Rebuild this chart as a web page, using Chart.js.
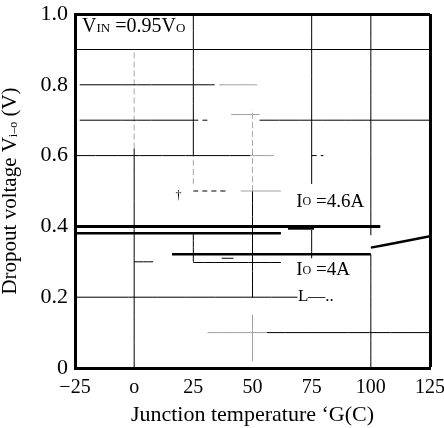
<!DOCTYPE html>
<html>
<head>
<meta charset="utf-8">
<script src="https://cdn.jsdelivr.net/npm/chart.js@4.4.0/dist/chart.umd.min.js"></script>
<style>
  html, body { margin: 0; padding: 0; background: #fff; }
</style>
</head>
<body>
<canvas id="chart" width="444" height="428"></canvas>
<script>
// axis ticks
const tempTicks = [-25, 0, 25, 50, 75, 100, 125];
const tempTickLabels = ['\u221225', 'o', '25', '50', '75', '100', '125'];
const voltTicks = [0, 0.2, 0.4, 0.6, 0.8, 1.0];
const voltTickLabels = ['0', '0.2', '0.4', '0.6', '0.8', '1.0'];

// Io = 4.6A curve (scan shows it as a doubled line)
const io46Temp = [-25, 104];
const io46Volt = [0.400, 0.400];
const io46LowTemp = [-25, 62];
const io46LowVolt = [0.381, 0.381];
const io46StubTemp = [65, 76];
const io46StubVolt = [0.397, 0.397];

// Io = 4A curve
const io4Temp = [16, 100];
const io4Volt = [0.321, 0.321];
const io4HotTemp = [100, 112, 125];
const io4HotVolt = [0.340, 0.355, 0.372];

// broken grid lines of the scan
// horizontal: [volt, fromTemp, toTemp, kind]
const hGrid = [
    [0.8, -23, 25, 'solid'], [0.8, 25, 34, 'solid'], [0.8, 36, 52, 'faint'],
    [0.716, 41, 53, 'faint'],
    [0.7, -23, 25, 'solid'], [0.7, 25, 31, 'dash'], [0.7, 53, 125, 'solid'],
    [0.6, -25, 49, 'solid'], [0.6, 49, 59, 'faint'], [0.6, 75, 80, 'dash'],
    [0.5, 25, 40, 'dash'], [0.5, 45, 62, 'faint'],
    [0.3, 0, 8, 'solid'], [0.298, 25, 62, 'solid'], [0.31, 37, 42, 'solid'],
    [0.2, -25, 69, 'solid'],
    [0.1, 31, 56, 'faint'], [0.1, 56, 125, 'solid']
];
// vertical: [temp, fromVolt, toVolt, kind]
const vGrid = [
    [0, 0, 0.62, 'solid'], [0, 0.62, 0.9, 'faintDash'],
    [25, 0.6, 1.0, 'solid'], [25, 0.52, 0.6, 'faintDash'], [25, 0.30, 0.38, 'solid'],
    [50, 0.5, 0.73, 'faintDash'], [50, 0.2, 0.5, 'solid'], [50, 0.02, 0.15, 'faint'],
    [75, 0.52, 1.0, 'solid'], [75, 0.31, 0.39, 'solid'],
    [100, 0.375, 1.0, 'solid'], [100, 0, 0.321, 'solid']
];

const SERIF = "'Liberation Serif', 'Times New Roman', serif";

const segStyle = {
    solid: { color: '#000', dash: [] },
    faint: { color: '#a0a0a0', dash: [] },
    dash: { color: '#000', dash: [5, 4] },
    faintDash: { color: '#a8a8a8', dash: [6, 3] }
};

const toPoints = (xs, ys) => xs.map((x, i) => ({ x: x, y: ys[i] }));

function lineSet(points, width, color, dash) {
    return {
        data: points,
        borderColor: color,
        borderWidth: width,
        borderDash: dash || [],
        pointRadius: 0,
        fill: false,
        tension: 0.3
    };
}

const datasets = [];
// curves first so they are drawn on top
datasets.push(lineSet(toPoints(io46Temp, io46Volt), 3, '#000'));
datasets.push(lineSet(toPoints(io46StubTemp, io46StubVolt), 4.5, '#000'));
datasets.push(lineSet(toPoints(io46LowTemp, io46LowVolt), 2.5, '#000'));
datasets.push(lineSet(toPoints(io4Temp, io4Volt), 2.5, '#000'));
datasets.push(lineSet(toPoints(io4HotTemp, io4HotVolt), 2.5, '#000'));

hGrid.forEach(([v, t1, t2, kind]) => {
    const s = segStyle[kind];
    datasets.push(lineSet([{ x: t1, y: v }, { x: t2, y: v }], 1, s.color, s.dash));
});
vGrid.forEach(([t, v1, v2, kind]) => {
    const s = segStyle[kind];
    datasets.push(lineSet([{ x: t, y: v1 }, { x: t, y: v2 }], 1, s.color, s.dash));
});

// text written inside the plot (in data units)
const notes = [
    { t: -22, v: 0.950, parts: [['V', 20], ['IN', 13], [' =0.95V', 20], ['O', 13]] },
    { t: 68.5, v: 0.456, parts: [['I', 19], ['O', 12, 1.5], [' =4.6A', 19]] },
    { t: 68.5, v: 0.262, parts: [['I', 19], ['O', 12, 1.5], [' =4A', 19]] },
    { t: 69.2, v: 0.190, parts: [['L\u2014..', 17]] },
    { t: 17.5, v: 0.477, parts: [['\u2020', 12]] }
];

function drawParts(ctx, x, y, parts) {
    let cx = x;
    parts.forEach(([txt, size, rise]) => {
        ctx.font = size + 'px ' + SERIF;
        ctx.fillText(txt, cx, y - (rise || 0));
        cx += ctx.measureText(txt).width;
    });
    return cx - x;
}

function partsWidth(ctx, parts) {
    let w = 0;
    parts.forEach(([txt, size]) => {
        ctx.font = size + 'px ' + SERIF;
        w += ctx.measureText(txt).width;
    });
    return w;
}

const notesPlugin = {
    id: 'notes',
    afterDraw(chart) {
        const ctx = chart.ctx;
        const xs = chart.scales.x, ys = chart.scales.y;
        ctx.save();
        ctx.fillStyle = '#000';
        ctx.textBaseline = 'alphabetic';
        ctx.textAlign = 'left';
        notes.forEach(n => {
            drawParts(ctx, xs.getPixelForValue(n.t), ys.getPixelForValue(n.v), n.parts);
        });

        // y axis title with the small i-o subscript
        const yTitle = [['Dropout voltage V', 21], ['i\u2013o', 12, -1], [' (V)', 21]];
        const area = chart.chartArea;
        ctx.translate(16, (area.top + area.bottom) / 2);
        ctx.rotate(-Math.PI / 2);
        const w = partsWidth(ctx, yTitle);
        drawParts(ctx, -w / 2, 0, yTitle);
        ctx.restore();
    }
};

new Chart(document.getElementById('chart'), {
    type: 'line',
    data: { datasets: datasets },
    plugins: [notesPlugin],
    options: {
        responsive: false,
        animation: false,
        layout: { padding: { top: 14, right: 14, bottom: 0, left: 0 } },
        plugins: {
            legend: { display: false },
            tooltip: { enabled: false }
        },
        scales: {
            x: {
                type: 'linear',
                min: -25,
                max: 125,
                afterBuildTicks: scale => { scale.ticks = tempTicks.map(v => ({ value: v })); },
                afterFit: scale => {
                    scale.height = 60;
                    scale.paddingLeft = 0;
                    scale.paddingRight = 0;
                },
                ticks: {
                    autoSkip: false,
                    maxRotation: 0,
                    padding: 8,
                    color: '#000',
                    font: { family: SERIF, size: 20 },
                    callback: v => tempTickLabels[tempTicks.indexOf(v)]
                },
                grid: {
                    drawTicks: false,
                    color: ctx => (ctx.tick && ctx.tick.value === 125) ? '#000' : 'rgba(0,0,0,0)',
                    lineWidth: ctx => (ctx.tick && ctx.tick.value === 125) ? 3 : 1
                },
                border: { display: true, color: '#000', width: 3 },
                title: {
                    display: true,
                    text: 'Junction temperature \u2018G(C)',
                    color: '#000',
                    font: { family: SERIF, size: 22 },
                    padding: { top: 0, bottom: 0 }
                }
            },
            y: {
                type: 'linear',
                min: 0,
                max: 1,
                afterBuildTicks: scale => {
                    scale.ticks = voltTicks.concat([0.9]).map(v => ({ value: v }));
                },
                afterFit: scale => {
                    scale.width = 75;
                    scale.paddingTop = 0;
                    scale.paddingBottom = 0;
                },
                ticks: {
                    autoSkip: false,
                    padding: 7,
                    color: '#000',
                    font: { family: SERIF, size: 22 },
                    callback: v => {
                        const i = voltTicks.findIndex(t => Math.abs(t - v) < 1e-6);
                        return i >= 0 ? voltTickLabels[i] : '';
                    }
                },
                grid: {
                    drawTicks: false,
                    color: ctx => {
                        const v = ctx.tick ? ctx.tick.value : 0;
                        return (Math.abs(v - 0.9) < 1e-6 || Math.abs(v - 1) < 1e-6) ? '#000' : 'rgba(0,0,0,0)';
                    },
                    lineWidth: ctx => (ctx.tick && Math.abs(ctx.tick.value - 1) < 1e-6) ? 3 : 1
                },
                border: { display: true, color: '#000', width: 3 }
            }
        }
    }
});
</script>
</body>
</html>
